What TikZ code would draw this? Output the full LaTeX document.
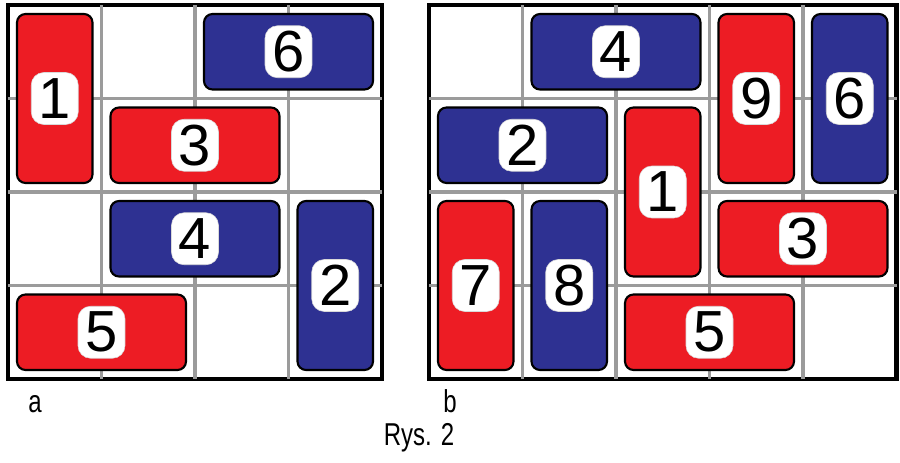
\documentclass[tikz,border=0pt]{standalone}
\usepackage{fontspec}
\setmainfont{Liberation Sans}
\newfontfamily\narrowfont[FakeStretch=0.76]{Liberation Sans}
\usetikzlibrary{positioning}
\definecolor{tilered}{RGB}{237,28,36}
\definecolor{tileblue}{RGB}{46,49,146}
\definecolor{gridgray}{RGB}{155,155,155}

\begin{document}
\begin{tikzpicture}[
    x=0.02cm, y=-0.02cm,
    frame/.style={draw=black, line width=2.6pt},
    gridline/.style={draw=gridgray, line width=2.1pt},
    tile/.style={rectangle, draw=black, line width=1.2pt, rounded corners=0.17cm},
    redtile/.style={tile, fill=tilered},
    bluetile/.style={tile, fill=tileblue},
    horiz/.style={minimum width=3.38cm, minimum height=1.51cm},
    vert/.style={minimum width=1.51cm, minimum height=3.38cm},
    num/.style={rectangle, fill=white, draw=black!15, line width=0.3pt, rounded corners=0.25cm,
        minimum width=0.94cm, minimum height=1.04cm, inner sep=0pt, font=\fontsize{33}{33}\selectfont},
    caption/.style={anchor=base, inner sep=0pt, font=\narrowfont\fontsize{18}{18}\selectfont}
]
    \useasboundingbox (0,0) rectangle (900,463);

    % board a
    \draw[frame] (8,5) rectangle (382,379);
    \foreach \x in {101.5,195,288.5}
        \draw[gridline] (\x,5) -- (\x,379);
    \foreach \y in {98.5,192,285.5}
        \draw[gridline] (8,\y) -- (382,\y);

    \node[redtile, vert] (a1) at (54.75,98.5) {};
    \node[bluetile, horiz] (a6) at (288.5,51.75) {};
    \node[redtile, horiz] (a3) at (195,145.25) {};
    \node[bluetile, horiz] (a4) at (195,238.75) {};
    \node[bluetile, vert] (a2) at (335.25,285.5) {};
    \node[redtile, horiz] (a5) at (101.5,332.25) {};

    \node[num] (a1n) at (a1) {1};
    \node[num] (a6n) at (a6) {6};
    \node[num] (a3n) at (a3) {3};
    \node[num] (a4n) at (a4) {4};
    \node[num] (a2n) at (a2) {2};
    \node[num] (a5n) at (a5) {5};

    % board b
    \draw[frame] (429,5) rectangle (896.5,379);
    \foreach \x in {522.5,616,709.5,803}
        \draw[gridline] (\x,5) -- (\x,379);
    \foreach \y in {98.5,192,285.5}
        \draw[gridline] (429,\y) -- (896.5,\y);

    \node[bluetile, horiz] (b4) at (616,51.75) {};
    \node[redtile, vert] (b9) at (756.25,98.5) {};
    \node[bluetile, vert] (b6) at (849.75,98.5) {};
    \node[bluetile, horiz] (b2) at (522.5,145.25) {};
    \node[redtile, vert] (b1) at (662.75,192) {};
    \node[redtile, horiz] (b3) at (803,238.75) {};
    \node[redtile, vert] (b7) at (475.75,285.5) {};
    \node[bluetile, vert] (b8) at (569.25,285.5) {};
    \node[redtile, horiz] (b5) at (709.5,332.25) {};

    \node[num] (b4n) at (b4) {4};
    \node[num] (b9n) at (b9) {9};
    \node[num] (b6n) at (b6) {6};
    \node[num] (b2n) at (b2) {2};
    \node[num] (b1n) at (b1) {1};
    \node[num] (b3n) at (b3) {3};
    \node[num] (b7n) at (b7) {7};
    \node[num] (b8n) at (b8) {8};
    \node[num] (b5n) at (b5) {5};

    % captions
    \node[caption] (capa) at (35,412) {a};
    \node[caption] (capb) at (450,412) {b};
    \node[caption] (rys) at (419,445) {Rys. 2};
\end{tikzpicture}
\end{document}
